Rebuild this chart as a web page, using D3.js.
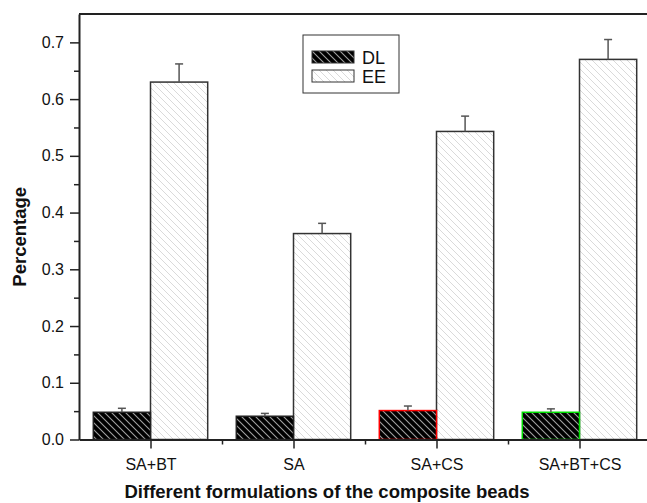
<!DOCTYPE html>
<html>
<head>
<meta charset="utf-8">
<script src="https://cdn.jsdelivr.net/npm/d3@7"></script>
<style>
  body { margin: 0; background: #fff; }
  text { font-family: "Liberation Sans", Arial, sans-serif; }
</style>
</head>
<body>
<svg id="chart" width="647" height="503"></svg>
<script>
const categories = ["SA+BT", "SA", "SA+CS", "SA+BT+CS"];
const dlValues = [0.048, 0.041, 0.051, 0.048];
const dlErrors = [0.007, 0.005, 0.008, 0.006];
const eeValues = [0.630, 0.363, 0.543, 0.670];
const eeErrors = [0.032, 0.018, 0.027, 0.035];
const dlOutline = ["#222", "#222", "#ff0000", "#00dd00"];
const yTicks = [0, 0.1, 0.2, 0.3, 0.4, 0.5, 0.6, 0.7];

const svg = d3.select("#chart");
const margin = { top: 14, left: 79, bottom: 439.5, right: 651 };

const x = d3.scaleLinear().domain([0.5, 4.5]).range([margin.left, margin.right]);
const y = d3.scaleLinear().domain([0, 0.75]).range([margin.bottom, margin.top]);
const barW = 0.4;

// hatch patterns
const defs = svg.append("defs");
function hatch(id, bg, line, w) {
  const p = defs.append("pattern")
    .attr("id", id)
    .attr("patternUnits", "userSpaceOnUse")
    .attr("width", 7).attr("height", 7);
  p.append("rect").attr("width", 7).attr("height", 7).attr("fill", bg);
  p.append("path")
    .attr("d", "M-1,-1 L8,8 M-1,6 L1,8 M6,-1 L8,1")
    .attr("stroke", line).attr("stroke-width", w);
}
hatch("hatchDL", "#000", "#a0a0a0", 1.1);
hatch("hatchEE", "#fff", "#dadada", 1);

const idx = d3.range(categories.length);

// EE bars
svg.selectAll(".ee")
  .data(idx)
  .join("rect")
  .attr("class", "ee")
  .attr("x", i => x(i + 1))
  .attr("y", i => y(eeValues[i]))
  .attr("width", x(1 + barW) - x(1))
  .attr("height", i => y(0) - y(eeValues[i]))
  .attr("fill", "url(#hatchEE)")
  .attr("stroke", "#333")
  .attr("stroke-width", 1.5);

// DL bars
svg.selectAll(".dl")
  .data(idx)
  .join("rect")
  .attr("class", "dl")
  .attr("x", i => x(i + 1 - barW))
  .attr("y", i => y(dlValues[i]))
  .attr("width", x(1 + barW) - x(1))
  .attr("height", i => y(0) - y(dlValues[i]))
  .attr("fill", "url(#hatchDL)")
  .attr("stroke", i => dlOutline[i])
  .attr("stroke-width", 1.5);

// error bars (upper only)
function errBars(cls, vals, errs, offset) {
  const g = svg.selectAll("." + cls)
    .data(idx)
    .join("g")
    .attr("class", cls)
    .attr("stroke", "#555")
    .attr("stroke-width", 1.5);
  g.append("line")
    .attr("x1", i => x(i + 1 + offset)).attr("x2", i => x(i + 1 + offset))
    .attr("y1", i => y(vals[i])).attr("y2", i => y(vals[i] + errs[i]));
  g.append("line")
    .attr("x1", i => x(i + 1 + offset) - 4).attr("x2", i => x(i + 1 + offset) + 4)
    .attr("y1", i => y(vals[i] + errs[i])).attr("y2", i => y(vals[i] + errs[i]));
}
errBars("dlerr", dlValues, dlErrors, -barW / 2);
errBars("eeerr", eeValues, eeErrors, barW / 2);

// frame
svg.append("line")
  .attr("x1", margin.left).attr("x2", margin.right)
  .attr("y1", margin.top).attr("y2", margin.top)
  .attr("stroke", "#222").attr("stroke-width", 2);
svg.append("line")
  .attr("x1", margin.right).attr("x2", margin.right)
  .attr("y1", margin.top).attr("y2", margin.bottom)
  .attr("stroke", "#222").attr("stroke-width", 2);

// y axis
const yAxis = svg.append("g")
  .attr("transform", `translate(${margin.left},0)`)
  .call(d3.axisLeft(y).tickValues(yTicks).tickFormat(d3.format(".1f")).tickSize(9).tickSizeOuter(0));
svg.append("g")
  .attr("transform", `translate(${margin.left},0)`)
  .call(d3.axisLeft(y).tickValues(d3.range(0.05, 0.75, 0.1)).tickFormat("").tickSize(5).tickSizeOuter(0))
  .select(".domain").remove();

// x axis
const xAxis = svg.append("g")
  .attr("transform", `translate(0,${margin.bottom})`)
  .call(d3.axisBottom(x).tickValues([1, 2, 3, 4]).tickFormat((d, i) => categories[i]).tickSize(9).tickSizeOuter(0));
svg.append("g")
  .attr("transform", `translate(0,${margin.bottom})`)
  .call(d3.axisBottom(x).tickValues([1.5, 2.5, 3.5]).tickFormat("").tickSize(5).tickSizeOuter(0))
  .select(".domain").remove();

svg.selectAll(".domain").attr("stroke", "#222").attr("stroke-width", 2);
svg.selectAll(".tick line").attr("stroke", "#222").attr("stroke-width", 1.5);
yAxis.selectAll("text").attr("font-size", 16).attr("fill", "#111").attr("x", -15);
xAxis.selectAll("text").attr("font-size", 16).attr("fill", "#111").attr("y", 19);

// axis titles
svg.append("text")
  .attr("transform", `translate(26,${(margin.top + margin.bottom) / 2 + 10}) rotate(-90)`)
  .attr("text-anchor", "middle")
  .attr("font-size", 18.5).attr("font-weight", "bold").attr("fill", "#111")
  .text("Percentage");
svg.append("text")
  .attr("x", 327).attr("y", 498)
  .attr("text-anchor", "middle")
  .attr("font-size", 18.5).attr("font-weight", "bold").attr("fill", "#111")
  .text("Different formulations of the composite beads");

// legend
const legend = svg.append("g").attr("transform", "translate(303,35)");
legend.append("rect")
  .attr("width", 96).attr("height", 58)
  .attr("fill", "#fff").attr("stroke", "#333").attr("stroke-width", 1);
const legendItems = [["DL", "url(#hatchDL)"], ["EE", "url(#hatchEE)"]];
legend.selectAll(".item")
  .data(legendItems)
  .join("g")
  .attr("class", "item")
  .attr("transform", (d, i) => `translate(9,${16 + i * 19})`)
  .each(function(d) {
    const g = d3.select(this);
    g.append("rect").attr("width", 42).attr("height", 12)
      .attr("fill", d[1]).attr("stroke", "#333").attr("stroke-width", 1);
    g.append("text").attr("x", 50).attr("y", 13)
      .attr("font-size", 18).attr("fill", "#111").text(d[0]);
  });
</script>
</body>
</html>
